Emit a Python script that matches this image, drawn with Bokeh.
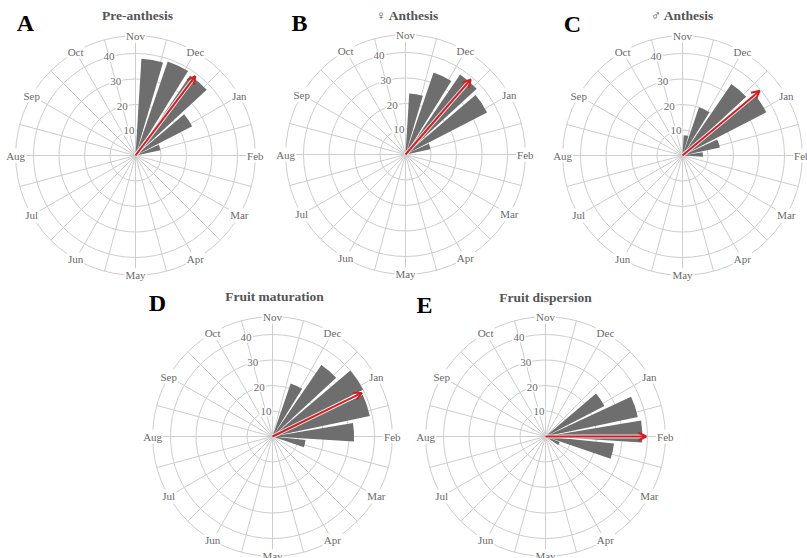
import math
from bokeh.plotting import figure
from bokeh.models import Range1d, Arrow, OpenHead, ColumnDataSource
from bokeh.core.properties import value
from bokeh.embed import file_html
from bokeh.resources import INLINE

# ---------------- data ----------------
months = ["Nov", "Dec", "Jan", "Feb", "Mar", "Apr", "May", "Jun", "Jul", "Aug", "Sep", "Oct"]
month_deg = [0, 30, 60, 90, 120, 150, 180, 210, 240, 270, 300, 330]   # clockwise from top
ring_values = [10, 20, 30, 40]
ring_labels = ["10", "20", "30", "40"]
outer_ring = 47

# half-month bins (compass centre angle, degrees)
bin_center_deg = [10.0, 25.4, 40.8, 56.2, 71.6, 87.0, 102.4, 117.8]
pre_anthesis     = [38, 39, 38, 25, 10, 0, 0, 0]
female_anthesis  = [24, 34, 38, 36, 10, 0, 0, 0]
male_anthesis    = [8, 20, 34, 37, 15, 8, 0, 0]
fruit_maturation = [0, 22, 34, 40, 39, 32, 13, 0]
fruit_dispersion = [0, 0, 0, 26, 37, 38, 27, 6]

mean_angle_deg = [37, 41, 50, 64, 90]
mean_length = [39, 39, 39.5, 39, 39.5]

titles = ["Pre-anthesis", "\u2640 Anthesis", "\u2642 Anthesis", "Fruit maturation", "Fruit dispersion"]
letters = ["A", "B", "C", "D", "E"]
series = [pre_anthesis, female_anthesis, male_anthesis, fruit_maturation, fruit_dispersion]

# ---------------- layout (page pixels) ----------------
W, H = 807, 558
S = 2.55  # px per unit
centers_px = [(135, 155), (405, 154), (682, 155), (272, 436), (545, 436)]
title_px = [(137, 15), (407, 15), (682, 15), (274, 296), (545, 297)]
letter_px = [(25, 22), (299, 22), (572, 23), (157, 302), (424, 304)]
bar_width_deg = 13.0

def to_data(px, py):
    return px / S, (H - py) / S

p = figure(width=W, height=H, output_backend="svg", toolbar_location=None,
           x_range=Range1d(0, W / S), y_range=Range1d(0, H / S),
           x_axis_location=None, y_axis_location=None, min_border=0)
p.grid.visible = False
p.outline_line_color = None
p.background_fill_color = "white"

grid_col = "#cdcdcd"
bar_col = "#6e6e6e"
red = "#d11f26"
serif = "Liberation Serif"

for i in range(5):
    cx, cy = to_data(*centers_px[i])
    # rings
    p.circle(x=[cx] * 5, y=[cy] * 5, radius=ring_values + [outer_ring],
             fill_color=None, line_color=grid_col, line_width=1)
    # spokes every 15 degrees
    sp = [k * 15 for k in range(24)]
    p.segment(x0=[cx] * 24, y0=[cy] * 24,
              x1=[cx + outer_ring * math.sin(math.radians(a)) for a in sp],
              y1=[cy + outer_ring * math.cos(math.radians(a)) for a in sp],
              line_color=grid_col, line_width=1)
    # bars
    vals = series[i]
    idx = [k for k, v in enumerate(vals) if v > 0]
    src = ColumnDataSource(dict(
        r=[vals[k] for k in idx],
        s=[math.radians(90 - bin_center_deg[k] - bar_width_deg / 2) for k in idx],
        e=[math.radians(90 - bin_center_deg[k] + bar_width_deg / 2) for k in idx],
    ))
    p.wedge(x=cx, y=cy, radius="r", start_angle="s", end_angle="e",
            direction="anticlock", source=src, fill_color=bar_col, line_color=None)
    # mean vector
    a = math.radians(mean_angle_deg[i])
    ex = cx + mean_length[i] * math.sin(a)
    ey = cy + mean_length[i] * math.cos(a)
    p.segment(x0=[cx], y0=[cy], x1=[ex], y1=[ey], line_color="white", line_width=4, line_alpha=0.8)
    p.add_layout(Arrow(end=OpenHead(size=8, line_color=red, line_width=2),
                       x_start=cx, y_start=cy, x_end=ex, y_end=ey,
                       line_color=red, line_width=2))
    # month labels
    p.text(x=[cx + outer_ring * math.sin(math.radians(d)) for d in month_deg],
           y=[cy + outer_ring * math.cos(math.radians(d)) for d in month_deg],
           text=months, text_font=value(serif), text_font_size="11px",
           text_color="#6a6a6a", text_align="center", text_baseline="middle",
           background_fill_color="white", padding=1)
    # ring labels along 345 deg spoke
    la = math.radians(-15)
    p.text(x=[cx + r * math.sin(la) for r in ring_values],
           y=[cy + r * math.cos(la) for r in ring_values],
           text=ring_labels, text_font=value(serif), text_font_size="11px",
           text_color="#6a6a6a", text_align="center", text_baseline="middle",
           background_fill_color="white", padding=1)
    # title
    tx, ty = to_data(*title_px[i])
    p.text(x=[tx], y=[ty], text=[titles[i]], text_font=value(serif), text_font_size="13.5px",
           text_font_style="bold", text_color="#555555", text_align="center", text_baseline="middle")
    lx, ly = to_data(*letter_px[i])
    p.text(x=[lx], y=[ly], text=[letters[i]], text_font=value(serif), text_font_size="24px",
           text_font_style="bold", text_color="black", text_align="center", text_baseline="middle")

open("out.html", "w").write(file_html(p, INLINE))
